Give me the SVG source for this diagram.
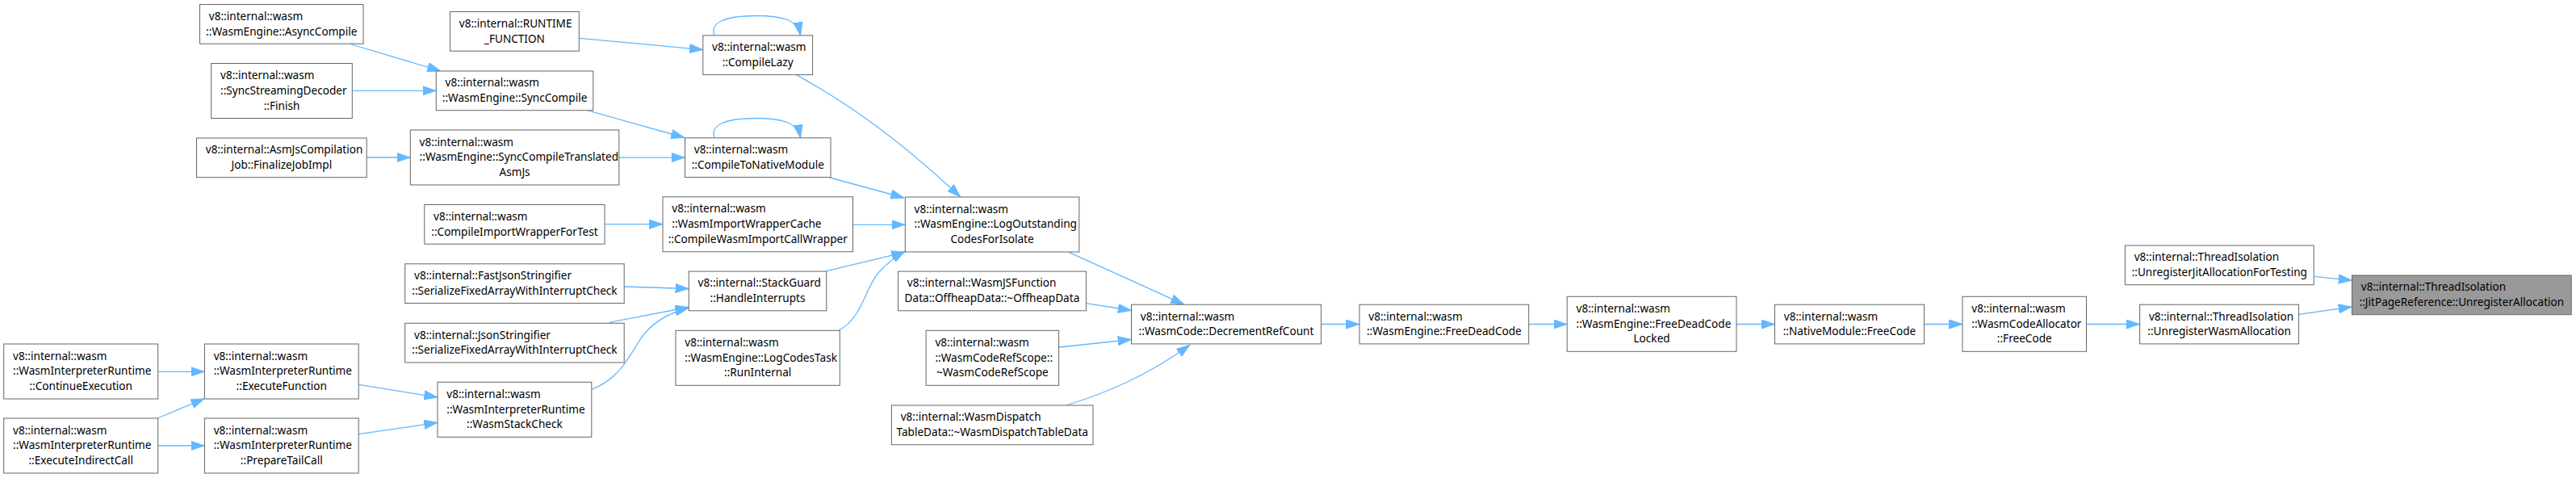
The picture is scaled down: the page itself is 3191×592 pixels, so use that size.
<svg xmlns="http://www.w3.org/2000/svg" width="3191" height="592" viewBox="0 0 3191 592">
<style>
.n rect{fill:#ffffff;stroke:#666666;stroke-width:1}
.h rect{fill:#999999;stroke:#666666;stroke-width:1}
text{font-family:"Noto Sans","Open Sans","DejaVu Sans",sans-serif;font-size:13.6px;fill:#000}
.c{text-anchor:middle}
.e path{fill:none;stroke:#63b8ff;stroke-width:1.3;marker-end:url(#ah)}
</style>
<defs>
<marker id="ah" markerUnits="userSpaceOnUse" markerWidth="18" markerHeight="12" refX="16.7" refY="6" orient="auto">
<path d="M0,0.3 L16.7,6 L0,11.7 z" fill="#63b8ff" stroke="#63b8ff" stroke-width="0.8"/>
</marker>
</defs>
<rect x="0" y="0" width="3191" height="592" fill="#ffffff"/>
<g id="edges" class="e">
<path d="M195.7,460.3 L253.4,460.3"/>
<path d="M195,518 L253.3,493.7"/>
<path d="M195.7,552 L253.4,552"/>
<path d="M444.2,476.4 L542,492"/>
<path d="M444.2,537.6 L542,523.4"/>
<path d="M432,54 L546,88"/>
<path d="M436.3,112.3 L540.3,112.3"/>
<path d="M454.2,195 L508.3,195"/>
<path d="M717.3,47.3 L870.8,61.6"/>
<path d="M885,44 C879,28 898,19.5 937,19.5 C968,19.5 988,24 991.5,44"/>
<path d="M728.3,136.9 L848,170.5"/>
<path d="M766.6,195.1 L848.5,195.1"/>
<path d="M885,171 C879,155 898,146.5 937,146.5 C968,146.5 988,151 991.5,171"/>
<path d="M986.6,92.6 C1040,123 1100,160 1189.8,243.9"/>
<path d="M1027.9,220 L1120,245"/>
<path d="M1056.5,278.3 L1121.3,278.3"/>
<path d="M1023.8,335.7 L1121,312.3"/>
<path d="M1039.3,409 C1068,394 1072,356 1088,338 C1097,328 1106,320 1121,311"/>
<path d="M749.3,277.7 L821,277.7"/>
<path d="M773.4,355 L853.3,357.5"/>
<path d="M755,399.3 L853,380.5"/>
<path d="M732.8,482.4 C765,470 778,445 790,425 C800,408 818,390 853,381.5"/>
<path d="M1324,312.3 L1467,377.2"/>
<path d="M1345.4,375.7 L1401.5,384.5"/>
<path d="M1311.7,430 L1401.5,420.5"/>
<path d="M1320.6,502 C1370,487 1420,466 1474,427.2"/>
<path d="M1636.4,401.5 L1684,401.5"/>
<path d="M1893.7,401.5 L1941.2,401.5"/>
<path d="M2151,401.5 L2198.5,401.5"/>
<path d="M2383.4,401.5 L2431,401.5"/>
<path d="M2584.5,401.5 L2650.6,401.5"/>
<path d="M2866.2,342.3 L2913.5,347.3"/>
<path d="M2847.6,389.3 L2913.5,380"/>
</g>
<g id="n1" class="n"><rect x="4.7" y="426" width="191" height="68"/><text x="16" y="445.6">v8::internal::wasm</text><text x="16" y="464.3">::WasmInterpreterRuntime</text><text class="c" x="100.2" y="483">::ContinueExecution</text></g>
<g id="n2" class="n"><rect x="4.7" y="518" width="191" height="68"/><text x="16" y="537.6">v8::internal::wasm</text><text x="16" y="556.3">::WasmInterpreterRuntime</text><text class="c" x="100.2" y="575">::ExecuteIndirectCall</text></g>
<g id="n3" class="n"><rect x="247.5" y="5.5" width="202.5" height="48.7"/><text x="258.8" y="24.8">v8::internal::wasm</text><text class="c" x="348.75" y="43.5">::WasmEngine::AsyncCompile</text></g>
<g id="n4" class="n"><rect x="261.7" y="78.5" width="174.6" height="68"/><text x="273" y="98.1">v8::internal::wasm</text><text x="273" y="116.8">::SyncStreamingDecoder</text><text class="c" x="349" y="135.5">::Finish</text></g>
<g id="n5" class="n"><rect x="243.5" y="171" width="210.7" height="48.7"/><text x="254.8" y="190.3">v8::internal::AsmJsCompilation</text><text class="c" x="348.85" y="209">Job::FinalizeJobImpl</text></g>
<g id="n6" class="n"><rect x="253.4" y="426" width="190.8" height="68"/><text x="264.7" y="445.6">v8::internal::wasm</text><text x="264.7" y="464.3">::WasmInterpreterRuntime</text><text class="c" x="348.8" y="483">::ExecuteFunction</text></g>
<g id="n7" class="n"><rect x="253.4" y="518" width="190.8" height="68"/><text x="264.7" y="537.6">v8::internal::wasm</text><text x="264.7" y="556.3">::WasmInterpreterRuntime</text><text class="c" x="348.8" y="575">::PrepareTailCall</text></g>
<g id="n8" class="n"><rect x="557.5" y="14.5" width="159.8" height="48.7"/><text x="568.8" y="33.8">v8::internal::RUNTIME</text><text class="c" x="637.4" y="52.5">_FUNCTION</text></g>
<g id="n9" class="n"><rect x="540.3" y="88" width="194.5" height="48.7"/><text x="551.6" y="107.3">v8::internal::wasm</text><text class="c" x="637.55" y="126">::WasmEngine::SyncCompile</text></g>
<g id="n10" class="n"><rect x="508.3" y="161" width="258.5" height="68"/><text x="519.6" y="180.6">v8::internal::wasm</text><text x="519.6" y="199.3">::WasmEngine::SyncCompileTranslated</text><text class="c" x="637.55" y="218">AsmJs</text></g>
<g id="n11" class="n"><rect x="525.8" y="253.5" width="223.3" height="48.7"/><text x="537.1" y="272.8">v8::internal::wasm</text><text class="c" x="637.45" y="291.5">::CompileImportWrapperForTest</text></g>
<g id="n12" class="n"><rect x="501.7" y="326.8" width="271.5" height="48.7"/><text x="513" y="346.1">v8::internal::FastJsonStringifier</text><text class="c" x="637.45" y="364.8">::SerializeFixedArrayWithInterruptCheck</text></g>
<g id="n13" class="n"><rect x="501.7" y="400.3" width="271.5" height="48.7"/><text x="513" y="419.6">v8::internal::JsonStringifier</text><text class="c" x="637.45" y="438.3">::SerializeFixedArrayWithInterruptCheck</text></g>
<g id="n14" class="n"><rect x="542" y="473.3" width="190.8" height="68"/><text x="553.3" y="492.9">v8::internal::wasm</text><text x="553.3" y="511.6">::WasmInterpreterRuntime</text><text class="c" x="637.4" y="530.3">::WasmStackCheck</text></g>
<g id="n15" class="n"><rect x="870.8" y="43.9" width="135.8" height="48.7"/><text x="882.1" y="63.2">v8::internal::wasm</text><text class="c" x="938.7" y="81.9">::CompileLazy</text></g>
<g id="n16" class="n"><rect x="848.5" y="170.8" width="180.5" height="48.7"/><text x="859.8" y="190.1">v8::internal::wasm</text><text class="c" x="938.75" y="208.8">::CompileToNativeModule</text></g>
<g id="n17" class="n"><rect x="821" y="243.8" width="235.5" height="68"/><text x="832.3" y="263.4">v8::internal::wasm</text><text x="832.3" y="282.1">::WasmImportWrapperCache</text><text class="c" x="938.75" y="300.8">::CompileWasmImportCallWrapper</text></g>
<g id="n18" class="n"><rect x="853.3" y="336.1" width="170.5" height="48.7"/><text x="864.6" y="355.4">v8::internal::StackGuard</text><text class="c" x="938.55" y="374.1">::HandleInterrupts</text></g>
<g id="n19" class="n"><rect x="837" y="409.3" width="203.3" height="68"/><text x="848.3" y="428.9">v8::internal::wasm</text><text x="848.3" y="447.6">::WasmEngine::LogCodesTask</text><text class="c" x="938.65" y="466.3">::RunInternal</text></g>
<g id="n20" class="n"><rect x="1121.3" y="244" width="215.5" height="68"/><text x="1132.6" y="263.6">v8::internal::wasm</text><text x="1132.6" y="282.3">::WasmEngine::LogOutstanding</text><text class="c" x="1229.05" y="301">CodesForIsolate</text></g>
<g id="n21" class="n"><rect x="1112.5" y="336.1" width="232.9" height="48.7"/><text x="1123.8" y="355.4">v8::internal::WasmJSFunction</text><text class="c" x="1228.95" y="374.1">Data::OffheapData::~OffheapData</text></g>
<g id="n22" class="n"><rect x="1147.1" y="409.3" width="164.5" height="68"/><text x="1158.4" y="428.9">v8::internal::wasm</text><text x="1158.4" y="447.6">::WasmCodeRefScope::</text><text class="c" x="1229.35" y="466.3">~WasmCodeRefScope</text></g>
<g id="n23" class="n"><rect x="1104.4" y="502" width="249.6" height="48.7"/><text x="1115.7" y="521.3">v8::internal::WasmDispatch</text><text class="c" x="1229.2" y="540">TableData::~WasmDispatchTableData</text></g>
<g id="n24" class="n"><rect x="1401.5" y="377.2" width="235" height="48.7"/><text x="1412.8" y="396.5">v8::internal::wasm</text><text class="c" x="1519" y="415.2">::WasmCode::DecrementRefCount</text></g>
<g id="n25" class="n"><rect x="1684" y="377.2" width="209.7" height="48.7"/><text x="1695.3" y="396.5">v8::internal::wasm</text><text class="c" x="1788.85" y="415.2">::WasmEngine::FreeDeadCode</text></g>
<g id="n26" class="n"><rect x="1941.2" y="367.3" width="209.8" height="68"/><text x="1952.5" y="386.9">v8::internal::wasm</text><text x="1952.5" y="405.6">::WasmEngine::FreeDeadCode</text><text class="c" x="2046.1" y="424.3">Locked</text></g>
<g id="n27" class="n"><rect x="2198.5" y="377.2" width="185" height="48.7"/><text x="2209.8" y="396.5">v8::internal::wasm</text><text class="c" x="2291" y="415.2">::NativeModule::FreeCode</text></g>
<g id="n28" class="n"><rect x="2431" y="367.3" width="153.5" height="68"/><text x="2442.3" y="386.9">v8::internal::wasm</text><text x="2442.3" y="405.6">::WasmCodeAllocator</text><text class="c" x="2507.75" y="424.3">::FreeCode</text></g>
<g id="n29" class="n"><rect x="2632.4" y="304" width="233.8" height="48.7"/><text x="2643.7" y="323.3">v8::internal::ThreadIsolation</text><text class="c" x="2749.3" y="342">::UnregisterJitAllocationForTesting</text></g>
<g id="n30" class="n"><rect x="2650.6" y="377.2" width="197" height="48.7"/><text x="2661.9" y="396.5">v8::internal::ThreadIsolation</text><text class="c" x="2749.1" y="415.2">::UnregisterWasmAllocation</text></g>
<g id="n31" class="h"><rect x="2913.5" y="341" width="271.7" height="48.7"/><text x="2924.8" y="360.3">v8::internal::ThreadIsolation</text><text class="c" x="3049.35" y="379">::JitPageReference::UnregisterAllocation</text></g>
</svg>
